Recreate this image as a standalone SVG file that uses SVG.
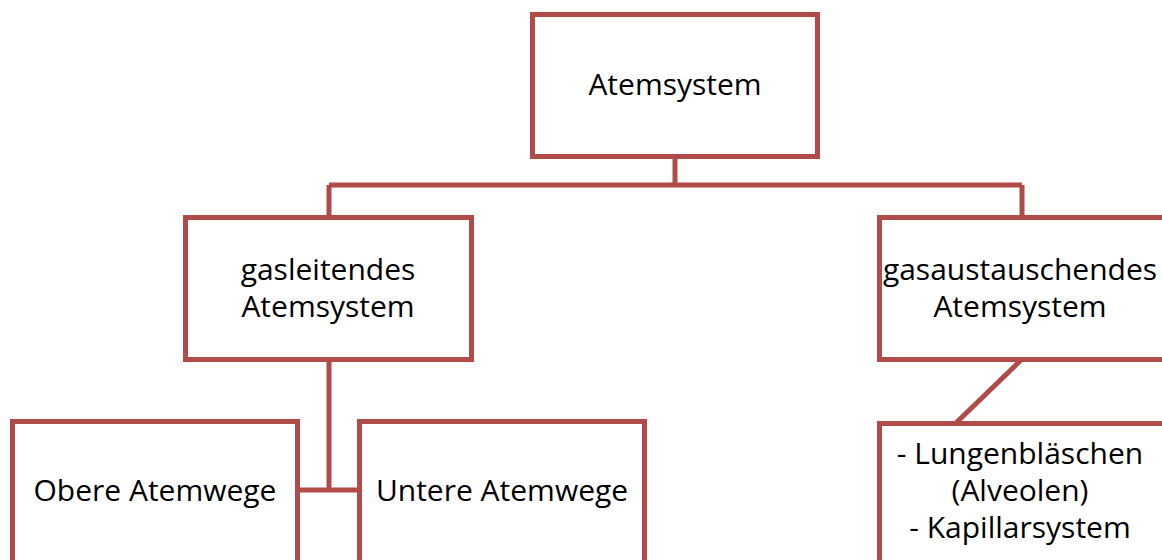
<svg xmlns="http://www.w3.org/2000/svg" width="1162" height="560" viewBox="0 0 1162 560">
<style>
.box{fill:#fff;stroke:#b04b49;stroke-width:5}
.con{fill:none;stroke:#b04b49;stroke-width:5}
text{font-family:"Open Sans","Liberation Sans",sans-serif;font-size:30px;fill:#000;text-anchor:middle}
</style>
<rect width="1162" height="560" fill="#fff"/>
<g id="connectors">
<path class="con" d="M675 157V185M329 185H1022M329 185V217M1022 185V217"/>
<path class="con" d="M329 360V490M298 490H358"/>
<path class="con" d="M1021 360L956 423"/>
</g>
<g id="atemsystem">
<rect class="box" x="532.5" y="14.5" width="285" height="142"/>
<text x="675" y="95">Atemsystem</text>
</g>
<g id="gasleitendes">
<rect class="box" x="185.5" y="217.5" width="286" height="142"/>
<text x="328" y="280">gasleitendes</text>
<text x="328" y="317">Atemsystem</text>
</g>
<g id="gasaustauschendes">
<rect class="box" x="879.5" y="217.5" width="286" height="142"/>
<text x="1020" y="280">gasaustauschendes</text>
<text x="1020" y="317">Atemsystem</text>
</g>
<g id="obere">
<rect class="box" x="12.5" y="421.5" width="285" height="160"/>
<text x="155" y="501">Obere Atemwege</text>
</g>
<g id="untere">
<rect class="box" x="359.5" y="421.5" width="285" height="160"/>
<text x="502" y="501">Untere Atemwege</text>
</g>
<g id="lungen">
<rect class="box" x="879.5" y="423.5" width="286" height="160"/>
<text x="1020" y="464">- Lungenbläschen</text>
<text x="1020" y="501">(Alveolen)</text>
<text x="1020" y="538">- Kapillarsystem</text>
</g>
</svg>
